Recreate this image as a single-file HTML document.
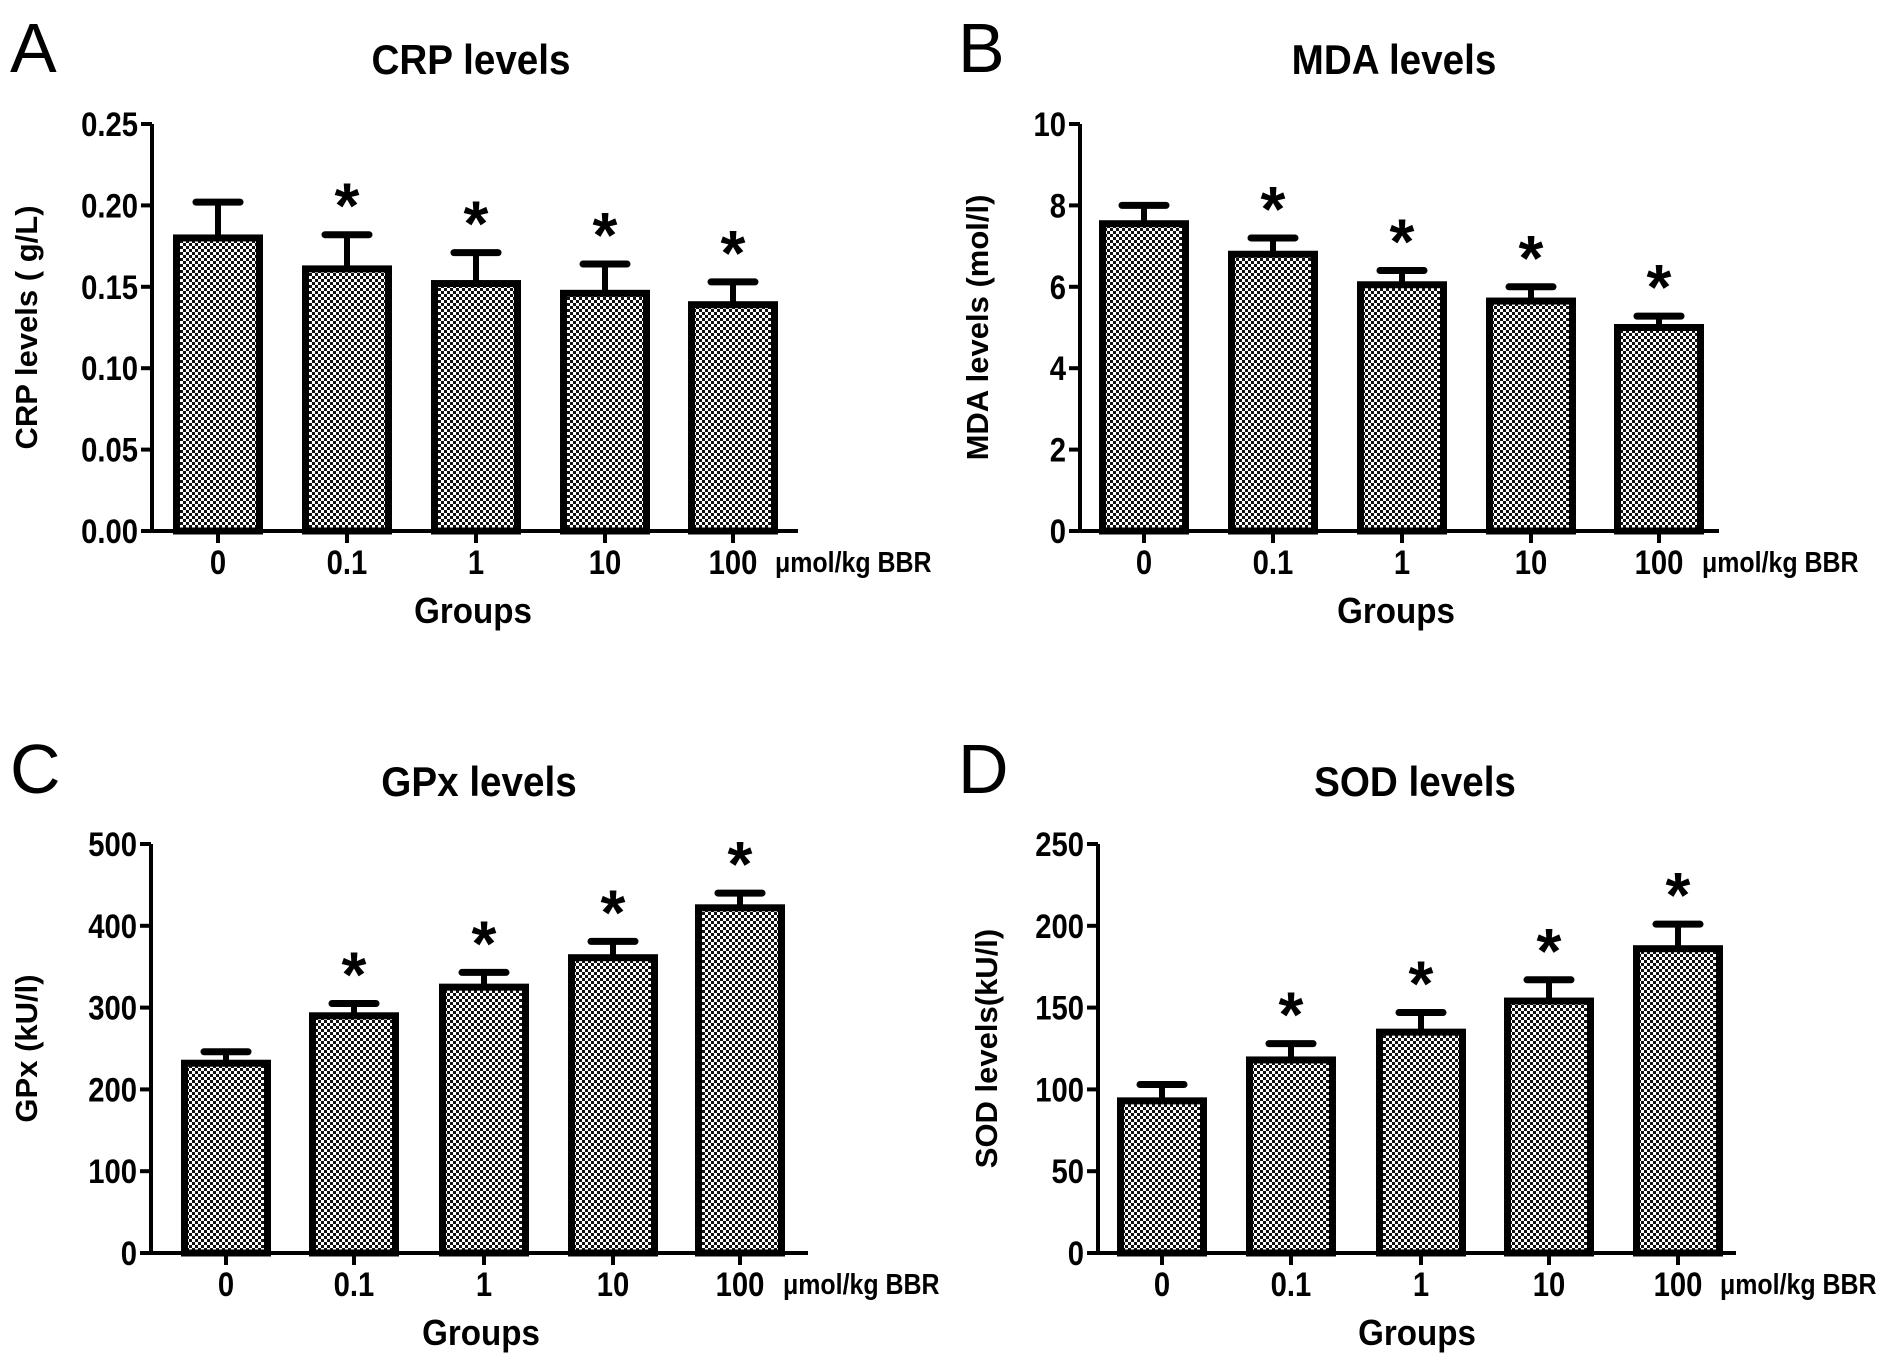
<!DOCTYPE html>
<html><head><meta charset="utf-8"><style>
html,body{margin:0;padding:0;background:#fff;width:1896px;height:1362px;overflow:hidden}
text{font-family:"Liberation Sans",sans-serif;font-weight:bold;fill:#000}
</style></head><body>
<svg id="fig" width="1896" height="1362" viewBox="0 0 1896 1362" xmlns="http://www.w3.org/2000/svg">
<defs><pattern id="chk" width="6" height="6" patternUnits="userSpaceOnUse"><rect width="6" height="6" fill="#fff"/><rect width="3" height="3" fill="#111"/><rect x="3" y="3" width="3" height="3" fill="#111"/></pattern></defs>
</svg>
<script>
const categories = ["0","0.1","1","10","100"];
const crpValues = [0.18,0.161,0.152,0.146,0.139];
const crpErrors = [0.022,0.021,0.019,0.018,0.014];
const crpTicks = ["0.00","0.05","0.10","0.15","0.20","0.25"];
const mdaValues = [7.55,6.8,6.05,5.65,5.0];
const mdaErrors = [0.45,0.4,0.35,0.35,0.28];
const mdaTicks = ["0","2","4","6","8","10"];
const gpxValues = [232,290,325,361,422];
const gpxErrors = [14,15,18,20,18];
const gpxTicks = ["0","100","200","300","400","500"];
const sodValues = [93,118,135,154,186];
const sodErrors = [10,10,12,13,15];
const sodTicks = ["0","50","100","150","200","250"];
const starFlags = [false,true,true,true,true];

const svg=document.getElementById('fig');
const NS='http://www.w3.org/2000/svg';
function mk(tag,attrs,parent,txt){const e=document.createElementNS(NS,tag);for(const k in attrs)e.setAttribute(k,attrs[k]);if(txt!==undefined)e.textContent=txt;(parent||svg).appendChild(e);return e;}
function ctext(x,y,size,anchor,txt,parent,sx){return mk('text',{x:0,y:0,'font-size':size,'text-anchor':anchor,transform:`translate(${x},${y}) scale(${sx||0.86},1)`},parent,txt);}

function panel(o){
  const g=mk('g',{});
  
  
  const ymax=o.max;
  const y=v=>o.y0-(v/ymax)*(o.y0-o.ytop);
  const L=mk('text',{x:o.letterX,y:o.letterY,'font-size':70,style:'font-weight:normal'},g,o.letter);
  
  
  const T=ctext(o.titleX,o.titleY,42,'middle',o.title,g,0.92);
  
  
  const xs=o.centers;
  o.values.forEach((v,i)=>{
    const cx=xs[i],w=83,top=y(v),etop=y(v+o.errors[i]);
    const el=mk('line',{x1:cx,x2:cx,y1:top,y2:etop,stroke:'#000','stroke-width':6},g);
    
    
    const cap=mk('line',{x1:cx-22,x2:cx+22,y1:etop,y2:etop,stroke:'#000','stroke-width':7,'stroke-linecap':'round'},g);
    
    
    const r=mk('rect',{x:cx-w/2,y:top,width:w,height:o.y0-top,fill:'url(#chk)',stroke:'#000','stroke-width':7},g);
    
    
    if(starFlags[i]){
      const s=mk('text',{x:cx,y:etop-40+33,'font-size':64,'text-anchor':'middle'},g,'*');
      
      
    }
    const tk=mk('line',{x1:cx,x2:cx,y1:o.y0,y2:o.y0+12,stroke:'#000','stroke-width':4},g);
    
    
    const tl=ctext(cx,o.y0+43,34,'middle',categories[i],g);
    
    
  });
  const ya=mk('line',{x1:o.ax,x2:o.ax,y1:o.ytop,y2:o.y0+2,stroke:'#000','stroke-width':4},g);
  
  
  const xa=mk('line',{x1:o.ax-2,x2:o.xend,y1:o.y0,y2:o.y0,stroke:'#000','stroke-width':4},g);
  
  
  o.ticks.forEach((t,i)=>{
    const v=ymax*i/(o.ticks.length-1),ty=y(v);
    const tk=mk('line',{x1:o.ax-11,x2:o.ax,y1:ty,y2:ty,stroke:'#000','stroke-width':4},g);
    
    
    const tl=ctext(o.ax-14,ty+12,34,'end',t,g);
    
    
  });
  const u=ctext(o.unitX,o.y0+41,29,'start','μmol/kg BBR',g);
  
  
  const gx=ctext(o.titleX+2,o.y0+92,36,'middle','Groups',g,0.92);
  
  
  const yt=mk('text',{x:0,y:0,'font-size':31,'text-anchor':'middle',transform:`translate(${o.ytX},${(o.ytop+o.y0)/2}) rotate(-90)`},g,o.ytitle);
  
  
}

panel({id:'crp',letter:'A',letterX:10,letterY:72,title:'CRP levels',titleX:471,titleY:74,ax:152,ytop:124,y0:531,xend:798,max:0.25,
  centers:[218,347,476,605,733],values:crpValues,errors:crpErrors,ticks:crpTicks,unitX:775,ytX:37,ytitle:'CRP levels ( g/L)'});
panel({id:'mda',letter:'B',letterX:958,letterY:72,title:'MDA levels',titleX:1394,titleY:74,ax:1080,ytop:124,y0:531,xend:1719,max:10,
  centers:[1144,1273,1402,1531,1659],values:mdaValues,errors:mdaErrors,ticks:mdaTicks,unitX:1702,ytX:988,ytitle:'MDA levels (mol/l)'});
panel({id:'gpx',letter:'C',letterX:10,letterY:793,title:'GPx levels',titleX:479,titleY:796,ax:151,ytop:844,y0:1253,xend:808,max:500,
  centers:[226,354,484,613,740],values:gpxValues,errors:gpxErrors,ticks:gpxTicks,unitX:783,ytX:37,ytitle:'GPx (kU/l)'});
panel({id:'sod',letter:'D',letterX:958,letterY:793,title:'SOD levels',titleX:1415,titleY:796,ax:1098,ytop:844,y0:1253,xend:1736,max:250,
  centers:[1162,1291,1421,1549,1678],values:sodValues,errors:sodErrors,ticks:sodTicks,unitX:1720,ytX:997,ytitle:'SOD levels(kU/l)'});
</script>
</body></html>
